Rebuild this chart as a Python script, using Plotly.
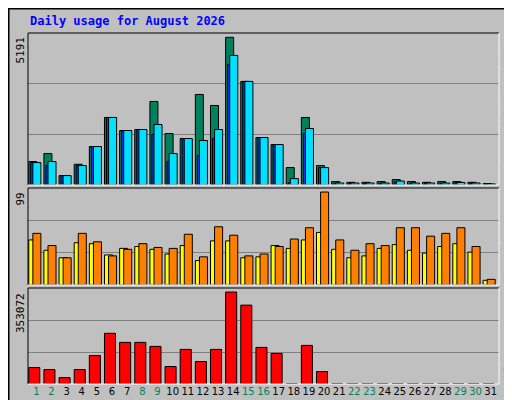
import plotly.graph_objects as go

# Daily usage data
days = list(range(1, 32))
weekend = [1, 2, 8, 9, 15, 16, 22, 23, 29, 30]

hits = [824, 1105, 331, 729, 1352, 2373, 1915, 1950, 2936, 1809, 1633, 3182, 2795, 5191, 3640, 1668,
        1422, 613, 2373, 683, 120, 95, 95, 120, 190, 120, 95, 120, 120, 95, 50]
files = [788, 683, 331, 683, 1352, 2373, 1915, 1950, 1774, 824, 1633, 1035, 1633, 4238, 3640, 1668,
         1422, 85, 1809, 612, 60, 60, 60, 60, 110, 60, 60, 60, 80, 60, 30]
pages = [788, 824, 331, 683, 1352, 2373, 1915, 1950, 2126, 1105, 1633, 1563, 1950, 4555, 3640, 1668,
         1422, 225, 1985, 612, 70, 70, 70, 70, 140, 70, 70, 70, 90, 70, 40]
sites = [48, 37, 29, 45, 44, 32, 39, 41, 38, 33, 42, 26, 47, 47, 29, 30, 42, 39, 48, 56, 38, 29,
         31, 39, 43, 37, 34, 41, 44, 35, 5]
visits = [55, 42, 29, 55, 46, 31, 38, 44, 40, 39, 54, 30, 62, 53, 31, 33, 41, 49, 61, 99, 48, 37,
          44, 42, 61, 61, 52, 55, 61, 41, 6]
kbytes = [63140, 55410, 24480, 55410, 109530, 194580, 159790, 159790, 144320, 67010, 132730, 86340,
          132730, 353072, 302820, 140460, 117260, 0, 148190, 47680, 0, 0, 0, 0, 0, 0, 0, 0, 0, 0, 0]

C_HITS, C_FILES, C_PAGES = "#00805C", "#0040FF", "#00E0FF"
C_SITES, C_VISITS, C_KB = "#FFFF00", "#FF8000", "#FF0000"
BG = "#C0C0C0"
line = dict(color="black", width=1)

fig = go.Figure()


def bar(y, color, offset, width, yaxis):
    fig.add_trace(go.Bar(x=days, y=y, marker=dict(color=color, line=line), offset=offset,
                         width=width, yaxis=yaxis, xaxis="x", hoverinfo="y"))


bar(hits, C_HITS, -0.5, 0.53, "y")
bar(files, C_FILES, -0.37, 0.4, "y")
bar(pages, C_PAGES, -0.23, 0.53, "y")
bar(sites, C_SITES, -0.5, 0.53, "y2")
bar(visits, C_VISITS, -0.23, 0.53, "y2")
bar(kbytes, C_KB, -0.5, 0.73, "y3")

# zero-kbyte days are drawn as a short black dash
for d, k in zip(days, kbytes):
    if k == 0:
        fig.add_shape(type="line", xref="x", yref="y3", x0=d - 0.5, x1=d + 0.23, y0=0, y1=0,
                      line=dict(color="black", width=2))

x_dom = [20 / 512, 491 / 512]


def dom(top, bot):
    return [1 - bot / 400, 1 - top / 400]


def yax(domain, top):
    return dict(domain=domain, range=[0, top], anchor="x", showticklabels=False,
                tickvals=[top / 3, 2 * top / 3], showgrid=True, gridcolor="#808080",
                gridwidth=1, zeroline=False, showline=False, fixedrange=True)


tick_text = ["<span style='color:%s'>%d</span>" % (C_HITS if d in weekend else "black", d)
             for d in days]

fig.update_layout(
    width=512, height=400, margin=dict(l=0, r=0, t=0, b=0),
    paper_bgcolor=BG, plot_bgcolor=BG, showlegend=False, barmode="overlay",
    font=dict(family="DejaVu Sans Mono", size=11, color="black"),
    xaxis=dict(domain=x_dom, range=[0.45, 31.55], tickvals=days, ticktext=tick_text, tickangle=0,
               tickfont=dict(family="DejaVu Sans", size=10), ticks="", anchor="y3",
               showgrid=False, zeroline=False, fixedrange=True),
    yaxis=yax(dom(25, 177), 5342),
    yaxis2=yax(dom(180, 277), 103.3),
    yaxis3=yax(dom(280, 376), 368500),
)

# panel frames: black top/left, white bottom/right
for top, bot in [(25, 177), (180, 277), (280, 376)]:
    y0, y1 = 1 - bot / 400, 1 - top / 400
    fig.add_shape(type="line", xref="paper", yref="paper", x0=x_dom[0], x1=x_dom[1], y0=y1, y1=y1, line=line)
    fig.add_shape(type="line", xref="paper", yref="paper", x0=x_dom[0], x1=x_dom[0], y0=y0, y1=y1, line=line)
    fig.add_shape(type="line", xref="paper", yref="paper", x0=x_dom[0], x1=x_dom[1], y0=y0, y1=y0,
                  line=dict(color="white", width=1))
    fig.add_shape(type="line", xref="paper", yref="paper", x0=x_dom[1], x1=x_dom[1], y0=y0, y1=y1,
                  line=dict(color="white", width=1))

# outer bevel, kept under the texts
fig.add_shape(type="rect", xref="paper", yref="paper", x0=506 / 512, x1=510 / 512, y0=2 / 400, y1=398 / 400,
              fillcolor="#808080", line_width=0, layer="below")
fig.add_shape(type="rect", xref="paper", yref="paper", x0=2 / 512, x1=510 / 512, y0=2 / 400, y1=6 / 400,
              fillcolor="#808080", line_width=0, layer="below")
fig.add_shape(type="rect", xref="paper", yref="paper", x0=0.001, x1=0.999, y0=0.001, y1=0.999,
              fillcolor="rgba(0,0,0,0)", line=dict(color="black", width=2))

sep = "<span style='color:black'> / </span>"
notes = [
    (20, 13, 0, "<b>Daily usage for August 2026</b>", dict(color="#0000FF", size=12), "left", "middle"),
    (12, 27, -90, "5191", dict(size=11), "center", "top"),
    (12, 183, -90, "99", dict(size=11), "center", "top"),
    (12, 283, -90, "353072", dict(size=11), "center", "top"),
    (500, 27, -90, "<span style='color:%s'>Pages</span>%s<span style='color:%s'>Files</span>%s"
     "<span style='color:%s'>Hits</span>" % (C_PAGES, sep, C_FILES, sep, C_HITS), dict(size=11), "center", "top"),
    (500, 183, -90, "<span style='color:%s'>Sites</span>%s<span style='color:%s'>Visits</span>"
     % (C_VISITS, sep, C_SITES), dict(size=11), "center", "top"),
    (500, 328, -90, "<span style='color:%s'>KBytes</span>" % C_KB, dict(size=11), "center", "top"),
]
for x, y, ang, text, f, xa, ya in notes:
    fig.add_annotation(x=x / 512, y=1 - y / 400, xref="paper", yref="paper", text=text, textangle=ang,
                       showarrow=False, font=dict(family="DejaVu Sans Mono", **f), xanchor=xa, yanchor=ya)

fig.write_html("out.html")
